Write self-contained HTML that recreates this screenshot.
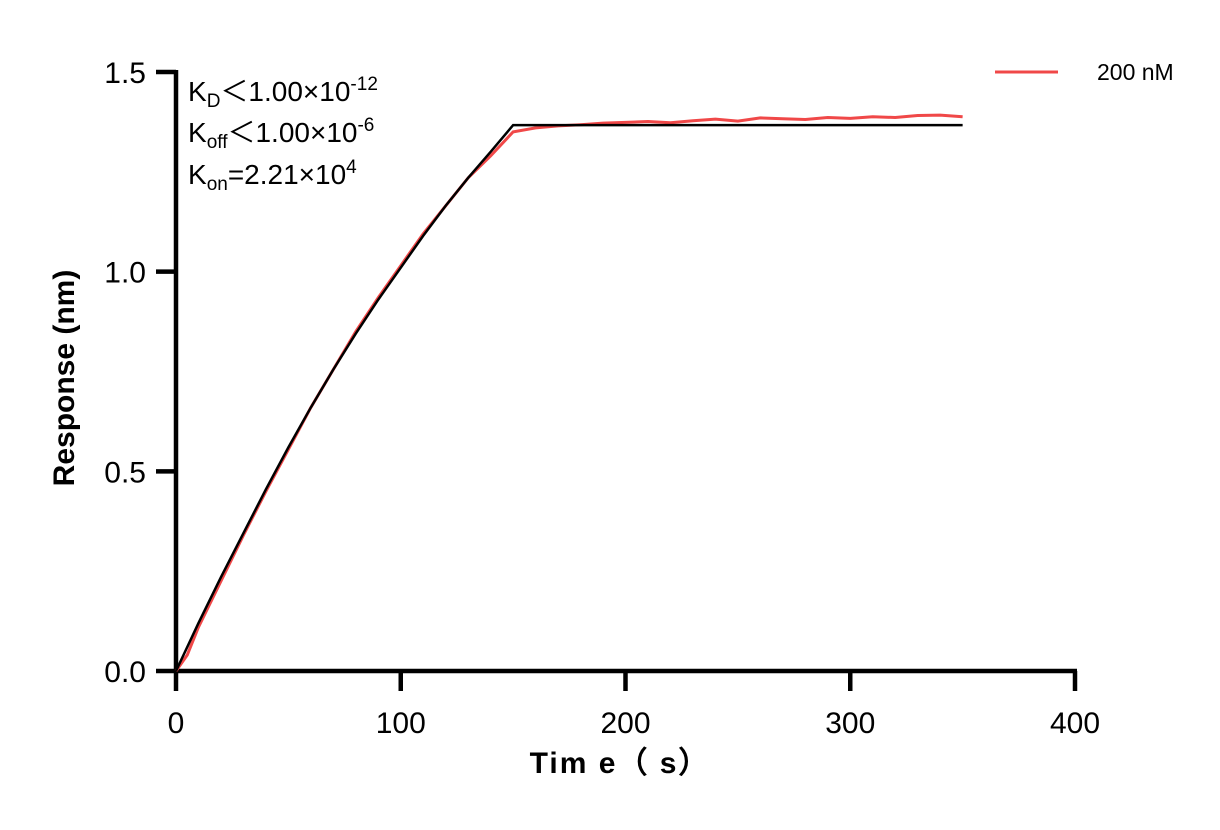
<!DOCTYPE html>
<html><head><meta charset="utf-8"><style>
body{margin:0;background:#fff}
svg text{font-family:"Liberation Sans",Arial,sans-serif}
</style></head><body>
<svg id="c" width="1220" height="825" xmlns="http://www.w3.org/2000/svg"></svg>
<script>
const xTicks=[0,100,200,300,400];
const yTicks=[0.0,0.5,1.0,1.5];
const fitTimes=[0,10,20,30,40,50,60,70,80,90,100,110,120,130,140,150,350];
const fitValues=[0,0.12,0.235,0.345,0.455,0.56,0.66,0.755,0.845,0.93,1.01,1.09,1.165,1.235,1.30,1.367,1.367];
const dataTimes=[0,5,10,20,30,40,50,60,70,80,90,100,110,120,130,140,150,160,170,180,190,200,210,220,230,240,250,260,270,280,290,300,310,320,330,340,350];
const dataValues=[0,0.04,0.11,0.225,0.34,0.45,0.555,0.66,0.755,0.85,0.935,1.015,1.095,1.165,1.235,1.29,1.35,1.36,1.365,1.368,1.372,1.374,1.376,1.373,1.378,1.382,1.377,1.385,1.383,1.381,1.386,1.384,1.388,1.386,1.391,1.392,1.388];
const svg=document.getElementById('c');const NS='http://www.w3.org/2000/svg';
const X=t=>176+t*(1075-176)/400;
const Y=v=>671-v*(671-72)/1.5;
function mk(tag,a,p){const e=document.createElementNS(NS,tag);for(const k in a)e.setAttribute(k,a[k]);(p||svg).appendChild(e);return e;}
let e;
e=mk('line',{x1:176,y1:671,x2:1077,y2:671,stroke:'#000','stroke-width':4.5});


e=mk('line',{x1:176,y1:70,x2:176,y2:673,stroke:'#000','stroke-width':4.5});


xTicks.forEach(t=>{
 e=mk('line',{x1:X(t),y1:671,x2:X(t),y2:691,stroke:'#000','stroke-width':4.5});
 
 
 e=mk('text',{x:X(t),y:733,'font-size':30,'text-anchor':'middle'});e.textContent=t;
 
 
});
yTicks.forEach(v=>{
 e=mk('line',{x1:156,y1:Y(v),x2:176,y2:Y(v),stroke:'#000','stroke-width':4.5});
 
 
 e=mk('text',{x:146,y:Y(v)+11,'font-size':30,'text-anchor':'end'});e.textContent=v.toFixed(1);
 
 
});
e=mk('polyline',{points:dataTimes.map((t,i)=>X(t)+','+Y(dataValues[i])).join(' '),fill:'none',stroke:'#f04848','stroke-width':3});


e=mk('polyline',{points:fitTimes.map((t,i)=>X(t)+','+Y(fitValues[i])).join(' '),fill:'none',stroke:'#000','stroke-width':2.5});


</script>
<svg width="1220" height="825" style="position:absolute;left:0;top:0" xmlns="http://www.w3.org/2000/svg">
<text x="74" y="378" font-size="30" font-weight="bold" text-anchor="middle" transform="rotate(-90 74 378)">Response (nm)</text>
<text x="620" y="773" font-size="30" font-weight="bold" text-anchor="middle" letter-spacing="2">Tim e（ s）</text>
<line x1="995" y1="72" x2="1058" y2="72" stroke="#f04848" stroke-width="3"/>
<text x="1097" y="80" font-size="23">200 nM</text>
<g font-size="28">
<text x="188" y="101">K<tspan font-size="19" dy="6">D</tspan><tspan dy="-6">＜1.00×10</tspan><tspan font-size="19" dy="-11">-12</tspan></text>
<text x="188" y="142">K<tspan font-size="19" dy="6">off</tspan><tspan dy="-6">＜1.00×10</tspan><tspan font-size="19" dy="-11">-6</tspan></text>
<text x="188" y="184">K<tspan font-size="19" dy="6">on</tspan><tspan dy="-6">=2.21×10</tspan><tspan font-size="19" dy="-11">4</tspan></text>
</g>
</svg>
</body></html>
